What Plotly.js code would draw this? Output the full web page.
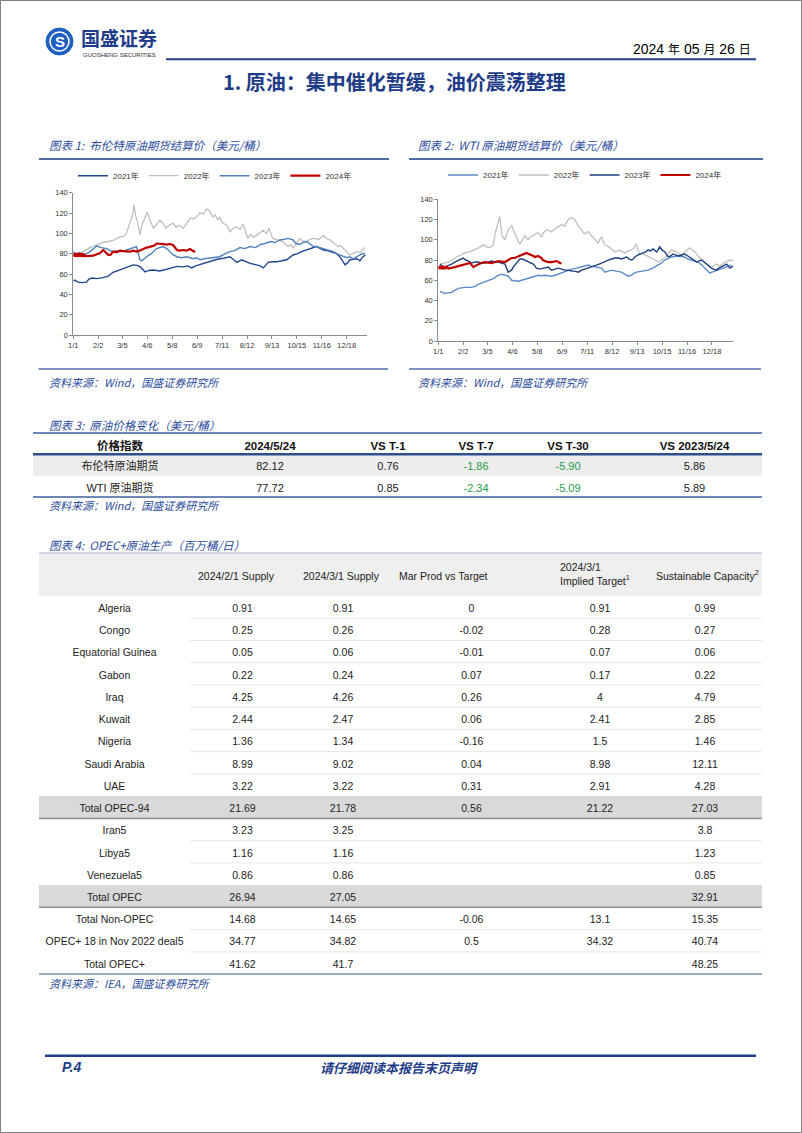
<!DOCTYPE html>
<html><head><meta charset="utf-8">
<script src="https://cdn.plot.ly/plotly-3.0.1.min.js"></script>
<style>html,body{margin:0;padding:0;background:#fff;overflow:hidden}#page{width:802px;height:1133px}</style>
</head><body><div id="page"></div>
<script>
// ---------------- DATA ----------------
const xTickDays = [0,32,63,95,127,159,191,223,255,287,319,351];
const xTickLabels = ['1/1','2/2','3/5','4/6','5/8','6/9','7/11','8/12','9/13','10/15','11/16','12/18'];
const seriesNames = ['2021年','2022年','2023年','2024年'];

// Brent settlement price [day, USD/bbl]
const brent2021 = [[0,53],[2,54],[6,52],[11,51.5],[17,52],[20,55],[24,56],[30,55.5],[38,56.4],[45,58],[51,61.7],[58,63.5],[64,65.6],[70,66.5],[77,69],[82,68.5],[86,67],[90,64],[92,62],[97,63.5],[103,64],[111,63],[117,64.5],[124,65.6],[133,67.5],[141,67],[147,68],[152,66],[157,68],[163,69.5],[170,71.5],[176,72.8],[186,74.8],[193,75.5],[201,77],[206,74],[210,71.5],[216,74],[222,72],[227,70.5],[235,69],[240,68],[244,66],[247,68.5],[250,71.5],[255,72],[261,72],[268,73],[274,74],[282,78.7],[288,80],[293,82],[299,83.5],[304,85],[308,85.5],[312,87],[316,85.5],[321,83.6],[326,83],[330,82],[334,81],[338,80],[342,77],[345,74],[349,69],[352,71],[355,74],[360,74.5],[364,75],[368,73],[371,76.5],[375,78.7]];
const brent2022 = [[0,79],[5,80],[13,82],[21,86],[30,89],[38,91],[45,92],[51,93],[58,96],[64,97],[68,100],[71,107],[74,113],[76,118],[78,128],[80,117],[82,113],[84,104],[85.6,98.4],[88,108],[92,116],[95,121],[98,114],[100,110],[102.7,105],[106,108],[108,110],[111,113],[115,110],[119,105],[123,108],[128,110],[132,106],[136,108],[141,105],[145,110],[150,115],[155,114],[159,117],[162.6,120],[167,119],[171,124],[175,122],[179,116],[182,118],[185.7,113],[188,116],[192,110],[197,108],[201,101.6],[205,105],[209.7,106.5],[214,104],[218,109],[221,102],[224,95],[228,99],[231,96],[235,98],[240,101],[243.8,103],[248,100],[251,105],[254,99],[256,95],[260,94],[265,93],[270,91],[275.6,87],[279,89],[282,85.6],[287,91],[291,95],[295,92],[299.6,92],[304,94],[310,95],[315,94],[321,97.7],[325,95],[329.5,93.5],[335,90],[340,87],[343,88],[346,85.6],[350,82],[355,78.7],[359,80],[363.8,82],[368,81],[371,84],[374.5,86]];
const brent2023 = [[0,82],[4,79],[8,81],[13,78],[17,80],[21.5,82],[26,85],[30,87.5],[36,86],[43,85],[47,83],[51,82],[56,83],[62,82],[68.5,83.6],[74,85],[78,86],[81,87],[83.5,80],[85.6,74],[88,73],[91,75],[94,77],[100,80],[107,85],[111,86],[115.5,87],[120,85],[124,82],[128,79],[133,77],[139,76],[145.6,77],[150,76],[154,75],[158,76],[162.6,74],[168,75],[175.5,75.5],[182,76],[188,77],[195,80],[201,82],[207,83],[214,86],[220,85],[227,87],[234,86],[240,89],[246,90],[253,92],[259,91],[265,93.5],[270,94],[275.6,95],[282,93.5],[286,90],[291,89],[295,91],[299.6,92],[304,89],[308,87],[312,87],[317,85.6],[321,84.5],[325,84],[330,83],[334,82],[338,80],[342.6,78.7],[347,77],[351,76],[355,77],[359.6,75],[364,77],[368,78.7],[371,80],[374.5,80]];
const brent2024 = [[0,77],[1.5,80.5],[3,77],[4.5,80.5],[6,77],[7.5,80.5],[9,77],[10.5,80.5],[12,77],[13.5,80],[15,77.5],[20,78],[25.7,78],[30,79.5],[34,80.4],[38.5,83.6],[41,82],[45,78.7],[48,79],[51,82],[56,81.5],[60,83],[64,82.5],[68.5,82.6],[73,82],[77,83],[81,82],[85,83],[90,85],[94,86],[97,86.5],[100.6,87],[104,88],[107,90],[111,90],[116,89.5],[120,89],[124,89.5],[128,88.5],[130,86],[133,83.6],[137,83],[141,83.6],[145,83],[150,84.6],[154,82.5],[156.5,82]];

// WTI settlement price [day, USD/bbl]
const wti2021 = [[2,49],[5,48],[8.5,47],[12,47.5],[17,48],[21,50],[25.6,52],[30,52.5],[34,53],[42.7,53],[47,54],[51.3,56],[55,57],[59.8,59],[64,60],[68.4,61],[72,62],[74.8,64],[78,65],[81,66],[86,65],[89.7,64],[92,62],[94,60],[98,59.5],[102.6,59],[107,60],[111,61],[115,62],[119.7,63],[124,64],[128,65],[132,64.5],[136.8,65],[141,64.5],[145.3,64],[150,65],[153.8,66],[158,67.5],[162.4,69],[167,70],[171,71],[177,72],[183.8,73],[188,74],[192.3,75],[196,74],[200.9,73],[205,72.5],[209.4,72],[213.7,68],[218,69],[222,70],[228,69],[235,68],[239,66],[243.6,64],[247.9,65],[251,67],[254.3,68],[260.7,69],[265,69.5],[269,70],[275,72],[282,75],[286,77],[290.6,80],[295,82],[299,83],[303,83.5],[307.7,84],[312,83.5],[316,83],[320,81],[324.8,80],[329,79],[333,78],[338,75],[342,72],[345,69],[348.3,67],[351,68],[354.7,69],[359,70],[363,71],[366,72],[369.7,73],[373,74],[376,75]];
const wti2022 = [[2,76],[7,77],[12.8,78],[18,80],[23.5,83],[29,85],[34,87],[40,88],[47,90],[52,92],[57.7,95],[61,93],[64,92],[67,93],[70.5,95],[73.5,108],[76,115],[79,123],[80.5,112],[82,104],[85.5,100],[87,104],[89.7,110],[94,114],[96,110],[98,106],[100,102],[102.6,98],[104.7,96],[108,101],[111,104],[113,102],[115.4,100],[118,103],[121.8,104],[125,106],[128,107],[132.5,103],[135,107],[139,110],[142,109],[145.3,108],[148,110],[151.7,112],[155,113],[158,115],[161.5,113],[164,117],[166.7,120],[171,122],[175,120],[178.6,115],[181,112],[183.8,110],[186,107],[188,106],[192.3,108],[196.6,104],[200.9,100],[205,97],[207,100],[209.4,103],[211,99],[213.7,95],[217,94],[220,92],[226.5,88],[230,89],[233,90],[236,88],[239.3,87],[244,89],[247.9,90],[251,92],[254.3,96],[256,90],[258.5,86],[262,86],[265,85],[269,84],[273.5,82],[278,80],[282,78],[286,80],[290.6,82],[295,86],[299,90],[302,89],[305.5,88],[309,86],[312,85],[315,87],[318,89],[322.6,92],[326,90],[329,88],[333,84],[337.6,80],[341,78],[344,76],[347,74],[350.4,72],[353,74],[356.8,76],[361,74],[364,76],[367.5,78],[371,79],[374,80],[378,79]];
const wti2023 = [[2,76],[5,74],[8.5,73],[12,74],[17,76],[21,78],[25.6,80],[29,81],[32,82],[35,80],[38.5,79],[42.7,77],[47,78],[51.3,78],[55,77],[59.8,77],[64,78],[68.4,79],[73,78],[77,78],[81,77],[85.5,76],[87.5,72],[89.7,68],[92,69],[94,70],[96,73],[98,75],[101,78],[104.7,81],[108,81],[111,80],[114,79],[117.5,78],[121.8,76],[124,74],[126,72],[130,71],[135,72],[141,73],[145.3,70],[149,71],[153.8,72],[158,71],[162.4,70],[167,70],[171,69],[175,69],[179.5,68],[184,70],[188,71],[192,72],[196.6,73],[203,75],[209.4,77],[214,79],[218,80],[222,81],[226.5,82],[231,82],[235,81],[238,82],[241.5,83],[245,81],[247.9,80],[250,81],[252,83],[256.4,85],[259,86],[262.8,87],[266,88],[269,90],[272,89],[275.6,91],[278,89],[280,88],[282,90],[284,93],[287,90],[290.6,88],[293,85],[295,83],[298,84],[301,86],[304,85],[307.7,84],[312,85],[316,86],[320,84],[324.8,82],[328,80],[331,78],[334,79],[337.6,80],[341,78],[344,76],[347,74],[350.4,72],[353,71],[356.8,70],[360,72],[363,73],[366,74],[369.7,76],[372,74],[374,72],[376,73],[378,74]];
const wti2024 = [[0,71],[1.5,74],[3,71],[4.5,74],[6,71],[7.5,74],[9,71],[10.5,74],[13,71.5],[17,72],[21,73],[25.6,74],[30,75],[34,76],[37,76.5],[40.6,77],[43,75],[45,73],[48,74.5],[51.3,76],[55,77],[59.8,78],[64,77.5],[68.4,77],[73,78],[77,79],[81,78.5],[85.5,78],[89.7,80],[94,82],[98,82],[101,83],[104.7,84],[107,85],[109,86],[113,87],[116,86],[119.7,85],[122,84],[124,83],[128,84],[132.5,82],[134,80],[136.8,79],[141,78],[145.3,78],[148,78.5],[151.7,79],[154,78],[156,77],[158,77]];

// Table 3: crude price changes (USD/bbl)
const t3Header = ['价格指数','2024/5/24','VS T-1','VS T-7','VS T-30','VS 2023/5/24'];
const t3Names = ['布伦特原油期货','WTI 原油期货'];
const t3Price = [82.12, 77.72];
const t3VsT1 = [0.76, 0.85];
const t3VsT7 = [-1.86, -2.34];
const t3VsT30 = [-5.90, -5.09];
const t3VsLastYear = [5.86, 5.89];

// Table 4: OPEC+ crude production (mb/d)
const t4Header = ['', '2024/2/1 Supply', '2024/3/1 Supply', 'Mar Prod vs Target', '2024/3/1', 'Sustainable Capacity'];
const t4Names = ['Algeria','Congo','Equatorial Guinea','Gabon','Iraq','Kuwait','Nigeria','Saudi Arabia','UAE','Total OPEC-94','Iran5','Libya5','Venezuela5','Total OPEC','Total Non-OPEC','OPEC+ 18 in Nov 2022 deal5','Total OPEC+'];
const t4SupplyFeb = [0.91,0.25,0.05,0.22,4.25,2.44,1.36,8.99,3.22,21.69,3.23,1.16,0.86,26.94,14.68,34.77,41.62];
const t4SupplyMar = [0.91,0.26,0.06,0.24,4.26,2.47,1.34,9.02,3.22,21.78,3.25,1.16,0.86,27.05,14.65,34.82,41.7];
const t4MarVsTarget = [0,-0.02,-0.01,0.07,0.26,0.06,-0.16,0.04,0.31,0.56,'','','','',-0.06,0.5,''];
const t4ImpliedTarget = [0.91,0.28,0.07,0.17,4,2.41,1.5,8.98,2.91,21.22,'','','','',13.1,34.32,''];
const t4Capacity = [0.99,0.27,0.06,0.22,4.79,2.85,1.46,12.11,4.28,27.03,3.8,1.23,0.85,32.91,15.35,40.74,48.25];
const t4Highlight = ['Total OPEC-94','Total OPEC'];

// ---------------- LAYOUT HELPERS ----------------
const W = 802, H = 1133;
const px = x => x / W;
const py = y => 1 - y / H;
const NAVY = '#1F3C88';
const CAP = '#2B4C9B';
const RULE = '#4F6FA8';
const LAT = 'Liberation Sans, Arial, Noto Sans CJK SC, sans-serif';
const CJK = 'Noto Sans CJK SC, Liberation Sans, sans-serif';

const shapes = [];
function hline(x0, x1, y, color, width) {
  shapes.push({type:'line', xref:'paper', yref:'paper', x0:px(x0), x1:px(x1), y0:py(y), y1:py(y), line:{color:color, width:width}});
}
const annotations = [];
function txt(x, y, text, o) {
  o = o || {};
  annotations.push({xref:'paper', yref:'paper', x:px(x), y:py(y), text:text, showarrow:false,
    xanchor:o.xa || 'left', yanchor:'middle', borderpad:0,
    font:{family:o.family || CJK, size:o.size || 11, color:o.color || '#000', style:o.italic ? 'italic' : 'normal', weight:o.bold ? 700 : 400}});
}

// page frame
shapes.push({type:'rect', xref:'paper', yref:'paper', x0:px(0.5), x1:px(801.5), y0:py(1132.5), y1:py(0.5), line:{color:'#808080', width:1}});

// header
shapes.push({type:'circle', xref:'paper', yref:'paper', x0:px(46), x1:px(73), y0:py(55), y1:py(28), fillcolor:'#1F5FBF', line:{color:'#1F5FBF', width:1}});
shapes.push({type:'circle', xref:'paper', yref:'paper', x0:px(50), x1:px(69), y0:py(51), y1:py(32), line:{color:'#ffffff', width:1.5}});
txt(59.5, 41.5, '<b>S</b>', {xa:'center', size:15, color:'#fff', family:LAT});
txt(80, 37.5, '国盛证券', {size:19, bold:true, color:NAVY});
txt(82, 55, 'GUOSHENG SECURITIES', {size:6, color:'#333', family:LAT});
txt(752, 49, '2024 <span style="font-size:12px">年</span> 05 <span style="font-size:12px">月</span> 26 <span style="font-size:12px">日</span>', {xa:'right', size:14, family:LAT});
hline(166, 756, 59.3, NAVY, 2);
txt(394, 81, '1. 原油：集中催化暂缓，油价震荡整理', {xa:'center', size:20, bold:true, color:NAVY});

// chart captions and rules
txt(48, 145, '图表 1:  布伦特原油期货结算价（美元/桶）', {size:11.5, italic:true, color:CAP});
txt(417, 145, '图表 2:  WTI 原油期货结算价（美元/桶）', {size:11.5, italic:true, color:CAP});
hline(39, 389, 159, RULE, 2);
hline(409, 763, 159, RULE, 2);
hline(38.5, 388, 369, RULE, 1.5);
hline(409, 761, 369, RULE, 1.5);
txt(48, 382, '资料来源：Wind，国盛证券研究所', {size:11, italic:true, color:CAP});
txt(417, 382, '资料来源：Wind，国盛证券研究所', {size:11, italic:true, color:CAP});

// table 3 decoration
txt(48, 425, '图表 3:  原油价格变化（美元/桶）', {size:11.5, italic:true, color:CAP});
hline(33, 762, 433, '#3E5F9C', 1.5);
hline(33, 762, 454.3, '#2F4F8F', 2.5);
hline(33, 762, 497, '#3E5F9C', 1.5);
txt(48, 505, '资料来源：Wind，国盛证券研究所', {size:11, italic:true, color:CAP});

// table 4 decoration
txt(48, 545, '图表 4:  OPEC+原油生产（百万桶/日）', {size:11.5, italic:true, color:CAP});
hline(39, 762, 553, '#A9B7CF', 1);
const T4_TOP = 596, T4_ROW = 22.24;
t4Names.forEach((n, i) => {
  const yb = T4_TOP + (i + 1) * T4_ROW;
  if (t4Highlight.indexOf(n) >= 0) hline(39, 762, yb, '#8C8C8C', 1.5);
  else if (i < t4Names.length - 1 && t4Highlight.indexOf(t4Names[i + 1]) < 0) hline(190, 762, yb, '#E6E6E6', 1);
});
hline(39, 762, T4_TOP + t4Names.length * T4_ROW, '#7F8FA6', 1.5);
txt(48, 983, '资料来源：IEA，国盛证券研究所', {size:11, italic:true, color:CAP});

// footer
hline(45, 756, 1055.7, NAVY, 2.5);
txt(61, 1067, 'P.4', {size:14, bold:true, italic:true, color:NAVY, family:LAT});
txt(399, 1067, '请仔细阅读本报告末页声明', {xa:'center', size:13, bold:true, italic:true, color:NAVY});

// ---------------- TRACES ----------------
function lineTrace(pairs, name, color, width, xa, ya, legend) {
  return {type:'scatter', mode:'lines', x:pairs.map(p => p[0]), y:pairs.map(p => p[1]), name:name,
    line:{color:color, width:width}, xaxis:xa, yaxis:ya, legend:legend, hoverinfo:'skip'};
}
const brentColors = ['#1F4690', '#BFBFBF', '#4F81BD', '#C00000'];
const wtiColors = ['#5B8BC9', '#BFBFBF', '#1F3F7F', '#C00000'];
const widths = [1.4, 1.3, 1.4, 2.2];
const traces = [];
[brent2021, brent2022, brent2023, brent2024].forEach((s, i) => traces.push(lineTrace(s, seriesNames[i], brentColors[i], widths[i], 'x', 'y', 'legend')));
[wti2021, wti2022, wti2023, wti2024].forEach((s, i) => traces.push(lineTrace(s, seriesNames[i], wtiColors[i], widths[i], 'x2', 'y2', 'legend2')));

// table 3
const t3Cols = [t3Names, t3Price, t3VsT1, t3VsT7, t3VsT30, t3VsLastYear];
traces.push({type:'table', domain:{x:[px(33), px(762)], y:[py(505), py(433)]},
  columnwidth:[174,126,110,66,118,135],
  header:{values:t3Header, align:'center', height:21,
    fill:{color:'rgba(0,0,0,0)'}, line:{width:0, color:'rgba(0,0,0,0)'},
    font:{family:LAT, size:11.5, color:'#111', weight:700}},
  cells:{values:t3Cols, format:['', '.2f', '.2f', '.2f', '.2f', '.2f'], align:'center', height:21.5,
    fill:{color:t3Cols.map(() => t3Names.map((_, r) => r === 0 ? '#EDEDED' : '#FFFFFF'))},
    line:{width:0, color:'rgba(0,0,0,0)'},
    font:{family:LAT, size:11, color:t3Cols.map((col, c) => col.map(v => (c > 0 && v < 0) ? '#1E9E47' : '#222'))}}
});

// table 4
const t4Cols = [t4Names.map(n => n.replace(/ /g, '\u00a0')), t4SupplyFeb, t4SupplyMar, t4MarVsTarget, t4ImpliedTarget, t4Capacity];
const t4HeadText = t4Header.map((h, i) => {
  if (i === 0) return '';
  if (i === 4) return h + '<br>Implied Target<sup>1</sup>';
  if (i === 5) return '<span style="font-size:5px">\u00a0</span><br>' + h + '<sup>2</sup>';
  return '<span style="font-size:5px">\u00a0</span><br>' + h;
});
traces.push({type:'table', domain:{x:[px(39), px(762)], y:[py(985), py(553)]},
  columnwidth:[151,105,96,161,96,114],
  header:{values:t4HeadText, align:['center','left','left','left','left','left'], height:43,
    fill:{color:'#EFEFEF'}, line:{width:0, color:'rgba(0,0,0,0)'},
    font:{family:LAT, size:10.5, color:'#222'}},
  cells:{values:t4Cols, align:'center', height:T4_ROW,
    fill:{color:t4Cols.map(() => t4Names.map(n => t4Highlight.indexOf(n) >= 0 ? '#D9D9D9' : '#FFFFFF'))},
    line:{width:0, color:'rgba(0,0,0,0)'},
    font:{family:LAT, size:10.5, color:'#222'}}
});

// ---------------- AXES ----------------
function xAxis(domain, range, anchor) {
  return {domain:domain, range:range, anchor:anchor, tickmode:'array', tickvals:xTickDays, ticktext:xTickLabels,
    showline:true, linecolor:'#8C8C8C', linewidth:1, ticks:'outside', ticklen:3, tickcolor:'#8C8C8C',
    showgrid:false, zeroline:false, tickfont:{family:LAT, size:7.5, color:'#333'}, fixedrange:true};
}
function yAxis(domain, anchor) {
  return {domain:domain, range:[0,140], dtick:20, anchor:anchor,
    showline:true, linecolor:'#8C8C8C', linewidth:1, ticks:'outside', ticklen:3, tickcolor:'#8C8C8C',
    showgrid:false, zeroline:false, tickfont:{family:LAT, size:7.5, color:'#333'}, fixedrange:true};
}
const legendBase = {orientation:'h', xanchor:'center', yanchor:'middle', font:{family:LAT, size:8, color:'#333'},
  bgcolor:'rgba(0,0,0,0)', itemwidth:30, tracegroupgap:0, itemclick:false, itemdoubleclick:false};

const layout = {
  width:W, height:H, margin:{l:0, r:0, t:0, b:0}, paper_bgcolor:'#fff', plot_bgcolor:'rgba(0,0,0,0)',
  font:{family:LAT},
  showlegend:true,
  xaxis:xAxis([px(73.3), px(367)], [0,377], 'y'),
  yaxis:yAxis([py(335), py(192.7)], 'x'),
  xaxis2:xAxis([px(438.3), px(733)], [0,378], 'y2'),
  yaxis2:yAxis([py(341), py(199.3)], 'x2'),
  legend:Object.assign({}, legendBase, {x:px(215), y:py(175.7)}),
  legend2:Object.assign({}, legendBase, {x:px(585), y:py(175)}),
  shapes:shapes, annotations:annotations
};

Plotly.newPlot('page', traces, layout, {displayModeBar:false, staticPlot:true});
</script>
</body></html>
